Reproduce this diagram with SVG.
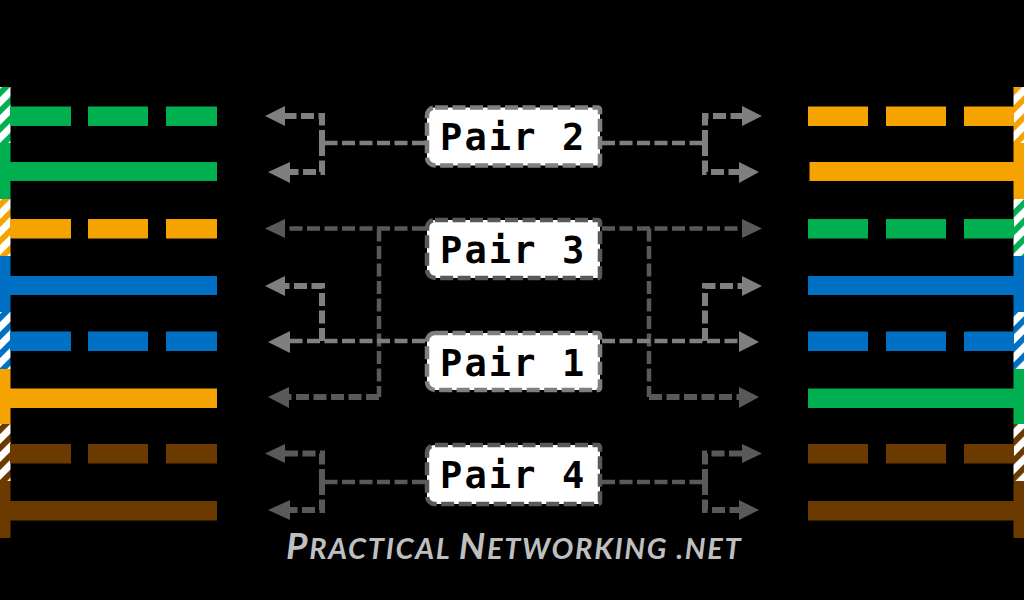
<svg xmlns="http://www.w3.org/2000/svg" width="1024" height="600" viewBox="0 0 1024 600">
<style>
.lbl{font-family:"DejaVu Sans Mono","Liberation Mono",monospace;font-weight:700;font-size:37px;fill:#000;letter-spacing:2.1px}
.box{fill:#fff;stroke-width:4.500;stroke-dasharray:13 4.500}
.c7{stroke:#7f7f7f;fill:none;stroke-dasharray:13 4.500}
.c5{stroke:#595959;fill:none;stroke-dasharray:13 4.500}
.t{stroke-width:4.500}.b{stroke-width:6}
.a7{fill:#7f7f7f}.a5{fill:#595959}
.g{fill:#00b050}.o{fill:#f5a300}.bl{fill:#0070c5}.br{fill:#6b3a00}
.foot{font-family:Lato,"Open Sans",sans-serif;font-style:italic;font-weight:700;font-size:37px;fill:#bfbfbf;letter-spacing:1.7px}
.foot tspan{font-size:29px}
</style>
<defs>
<pattern id="sg" width="12.73" height="12.73" patternUnits="userSpaceOnUse" patternTransform="translate(0 89) rotate(-45)"><rect width="12.73" height="12.73" fill="#fff"/><rect width="12.73" height="5.8" fill="#00b050"/></pattern>
<pattern id="so" width="12.73" height="12.73" patternUnits="userSpaceOnUse" patternTransform="translate(0 201) rotate(-45)"><rect width="12.73" height="12.73" fill="#fff"/><rect width="12.73" height="5.8" fill="#f5a300"/></pattern>
<pattern id="sb" width="12.73" height="12.73" patternUnits="userSpaceOnUse" patternTransform="translate(0 314) rotate(-45)"><rect width="12.73" height="12.73" fill="#fff"/><rect width="12.73" height="5.8" fill="#0070c5"/></pattern>
<pattern id="sr" width="12.73" height="12.73" patternUnits="userSpaceOnUse" patternTransform="translate(0 426) rotate(-45)"><rect width="12.73" height="12.73" fill="#fff"/><rect width="12.73" height="5.8" fill="#6b3a00"/></pattern>
</defs>
<rect width="1024" height="600" fill="#000"/>
<g id="left-wires">
<rect x="0" y="87" width="10.5" height="56" fill="url(#sg)"/><rect class="g" x="0" y="143" width="10.5" height="56"/>
<rect x="0" y="199" width="10.5" height="57" fill="url(#so)"/><rect class="bl" x="0" y="256" width="10.5" height="56"/>
<rect x="0" y="312" width="10.5" height="57" fill="url(#sb)"/><rect class="o" x="0" y="369" width="10.5" height="55"/>
<rect x="0" y="424" width="10.5" height="57" fill="url(#sr)"/><rect class="br" x="0" y="481" width="10.5" height="57"/>
<path class="g" d="M10 106.500h61v19.500h-61zM88 106.500h60v19.500h-60zM166 106.500h51v19.500h-51zM10 162h207v19h-207z"/>
<path class="o" d="M10 219h61v19.500h-61zM88 219h60v19.500h-60zM166 219h51v19.500h-51zM10 388.500h207v19.500h-207z"/>
<path class="bl" d="M10 331.500h61v19.500h-61zM88 331.500h60v19.500h-60zM166 331.500h51v19.500h-51zM10 276h207v19h-207z"/>
<path class="br" d="M10 444h61v19.500h-61zM88 444h60v19.500h-60zM166 444h51v19.500h-51zM10 501h207v19.500h-207z"/>
</g>
<g id="right-wires">
<rect x="1013.500" y="87" width="10.500" height="56" fill="url(#so)"/><rect class="o" x="1013.500" y="143" width="10.500" height="56"/>
<rect x="1013.500" y="199" width="10.500" height="57" fill="url(#sg)"/><rect class="bl" x="1013.500" y="256" width="10.500" height="56"/>
<rect x="1013.500" y="312" width="10.500" height="57" fill="url(#sb)"/><rect class="g" x="1013.500" y="369" width="10.500" height="55"/>
<rect x="1013.500" y="424" width="10.500" height="57" fill="url(#sr)"/><rect class="br" x="1013.500" y="481" width="10.500" height="57"/>
<path class="o" d="M808 106.500h60v19.500h-60zM886 106.500h60v19.500h-60zM964 106.500h50v19.500h-50zM809.500 162h205v19h-205z"/>
<path class="g" d="M808 219h60v19.500h-60zM886 219h60v19.500h-60zM964 219h50v19.500h-50zM808 388.500h206v19.500h-206z"/>
<path class="bl" d="M808 331.500h60v19.500h-60zM886 331.500h60v19.500h-60zM964 331.500h50v19.500h-50zM808 276h206v19h-206z"/>
<path class="br" d="M808 444h60v19.500h-60zM886 444h60v19.500h-60zM964 444h50v19.500h-50zM808 501h206v19.500h-206z"/>
</g>
<g id="connectors">
<g id="conn-pair3">
<path class="c5 t" d="M425 228.500H283"/><path class="c5 t" d="M379 228.500V397"/><path class="c5 b" d="M379 397H288"/>
<polygon class="a5" points="265,228.500 285,219 285,238"/><polygon class="a5" points="268,397 289,387 289,408"/>
<path class="c5 t" d="M602 228.500H744"/><path class="c5 t" d="M649 228.500V397"/><path class="c5 b" d="M649 397H741"/>
<polygon class="a5" points="762,228.500 742,219 742,238"/><polygon class="a5" points="759,397 739,387 739,408"/>
</g>
<g id="conn-pair2">
<path class="c7 t" d="M425 143H322"/><path class="c7 b" d="M322 143V116H283"/><path class="c7 b" d="M322 143V172H288"/>
<polygon class="a7" points="265,116 285,106 285,126"/><polygon class="a7" points="268,172 290,162 290,183"/>
<path class="c7 t" d="M602 143H705"/><path class="c7 b" d="M705 143V116H744"/><path class="c7 b" d="M705 143V172H741"/>
<polygon class="a7" points="762,116 742,106 742,126"/><polygon class="a7" points="759,172 739,162 739,183"/>
</g>
<g id="conn-pair1">
<path class="c7 t" d="M425 341H290"/><path class="c7 b" d="M322 341V286H283"/>
<polygon class="a7" points="265,286 285,276 285,296"/><polygon class="a7" points="268,342 290,331 290,353"/>
<path class="c7 t" d="M602 341H741"/><path class="c7 b" d="M705 341V286H744"/>
<polygon class="a7" points="762,286 742,276 742,296"/><polygon class="a7" points="759,342 739,331 739,352"/>
</g>
<g id="conn-pair4">
<path class="c5 t" d="M425 482H322"/><path class="c5 b" d="M322 482V453.500H283"/><path class="c5 b" d="M322 482V510H288"/>
<polygon class="a5" points="265,453.500 285,444 285,463"/><polygon class="a5" points="268,510 290,500 290,520"/>
<path class="c5 t" d="M602 482H705"/><path class="c5 b" d="M705 482V453.500H744"/><path class="c5 b" d="M705 482V510H741"/>
<polygon class="a5" points="762,453.500 742,444 742,463"/><polygon class="a5" points="759,510 739,500 739,520"/>
</g>
</g>
<g id="pair2"><path class="box" stroke="#7f7f7f" d="M435 107.500H598a2 2 0 0 1 2 2V163.500a2 2 0 0 1-2 2H435a8 8 0 0 1-8-8V115.500a8 8 0 0 1 8-8z"/><text class="lbl" x="440" y="150">Pair 2</text></g>
<g id="pair3"><path class="box" stroke="#595959" d="M435 220H598a2 2 0 0 1 2 2V276a2 2 0 0 1-2 2H435a8 8 0 0 1-8-8V228a8 8 0 0 1 8-8z"/><text class="lbl" x="440" y="263">Pair 3</text></g>
<g id="pair1"><path class="box" stroke="#7f7f7f" d="M435 333H598a2 2 0 0 1 2 2V388a2 2 0 0 1-2 2H435a8 8 0 0 1-8-8V341a8 8 0 0 1 8-8z"/><text class="lbl" x="440" y="376">Pair 1</text></g>
<g id="pair4"><path class="box" stroke="#595959" d="M435 445H598a2 2 0 0 1 2 2V502a2 2 0 0 1-2 2H435a8 8 0 0 1-8-8V453a8 8 0 0 1 8-8z"/><text class="lbl" x="440" y="488">Pair 4</text></g>
<text class="foot" x="286" y="559">P<tspan>RACTICAL </tspan>N<tspan>ETWORKING .NET</tspan></text>
</svg>
